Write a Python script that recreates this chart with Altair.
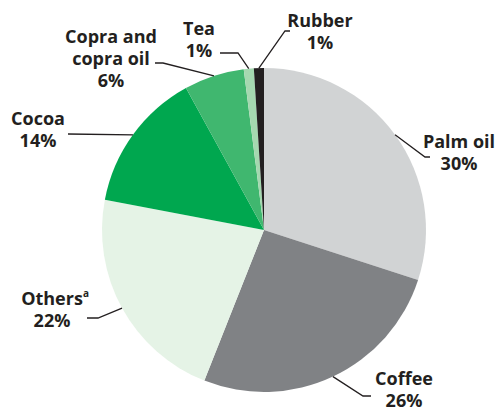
import math
import altair as alt
import pandas as pd

# ---- data ----
names = ["Palm oil", "Coffee", "Others", "Cocoa", "Copra and copra oil", "Tea", "Rubber"]
values = [30, 26, 22, 14, 6, 1, 1]
colors = ["#d1d3d4", "#808285", "#e5f3e6", "#00a74f", "#40b76f", "#a5d8b0", "#231f20"]

# label text lines per slice
label_lines = {
    "Palm oil": ["Palm oil", "30%"],
    "Coffee": ["Coffee", "26%"],
    "Others": ["Others", "22%"],
    "Cocoa": ["Cocoa", "14%"],
    "Copra and copra oil": ["Copra and", "copra oil", "6%"],
    "Tea": ["Tea", "1%"],
    "Rubber": ["Rubber", "1%"],
}

# ---- layout (page pixel coordinates) ----
CX, CY, R = 264, 230, 162
label_pos = {  # (center x, first baseline y)
    "Palm oil": (459, 148),
    "Coffee": (404, 385),
    "Others": (52, 305),
    "Cocoa": (38, 125),
    "Copra and copra oil": (111, 43),
    "Tea": (199, 35),
    "Rubber": (320, 27),
}
leader_pts = {  # elbow, end
    "Palm oil": [(425, 157), (430, 157)],
    "Coffee": [(363, 396), (371, 396)],
    "Others": [(98, 318), (87, 318)],
    "Cocoa": [(68, 134), (68, 134)],
    "Copra and copra oil": [(163, 63), (155, 63)],
    "Tea": [(238, 53), (220, 53)],
    "Rubber": [(285, 31), (290, 31)],
}
LINE_H = 22
W, H = 487, 401

pie_df = pd.DataFrame({"name": names, "value": values, "k": list(range(len(names)))})

# leader lines: start at slice mid-angle on the rim
total = sum(values)
rows = []
cum = 0
for n, v in zip(names, values):
    mid = (cum + v / 2) / total * 2 * math.pi
    cum += v
    sx = CX + R * math.sin(mid)
    sy = CY - R * math.cos(mid)
    pts = [(sx, sy)] + leader_pts[n]
    for i, (px, py) in enumerate(pts):
        rows.append({"name": n, "i": i, "x": px, "y": py})
line_df = pd.DataFrame(rows)

trows = []
for n in names:
    x0, y0 = label_pos[n]
    for j, t in enumerate(label_lines[n]):
        trows.append({"name": n, "text": t, "x": x0, "y": y0 + j * LINE_H})
text_df = pd.DataFrame(trows)
sup_df = pd.DataFrame({"text": ["a"], "x": [86], "y": [297]})

xs = alt.Scale(domain=[8, 8 + W], range=[0, W])
ys = alt.Scale(domain=[8 + H, 8], range=[H, 0])

pie = alt.Chart(pie_df).mark_arc(outerRadius=R).encode(
    theta=alt.Theta("value:Q", stack=True),
    order=alt.Order("k:Q"),
    color=alt.Color("name:N", scale=alt.Scale(domain=names, range=colors), legend=None),
    x=alt.value(CX - 8),
    y=alt.value(CY - 8),
)

lines = alt.Chart(line_df).mark_line(color="#231f20", strokeWidth=1.3).encode(
    x=alt.X("x:Q", scale=xs, axis=None),
    y=alt.Y("y:Q", scale=ys, axis=None),
    detail="name:N",
    order="i:Q",
)

texts = alt.Chart(text_df).mark_text(
    font="Open Sans", fontWeight="bold", fontSize=18, color="#231f20",
    align="center", baseline="alphabetic",
).encode(
    x=alt.X("x:Q", scale=xs, axis=None),
    y=alt.Y("y:Q", scale=ys, axis=None),
    text="text:N",
)

sup = alt.Chart(sup_df).mark_text(
    font="Open Sans", fontWeight="bold", fontSize=10, color="#231f20",
    align="center", baseline="alphabetic",
).encode(
    x=alt.X("x:Q", scale=xs, axis=None),
    y=alt.Y("y:Q", scale=ys, axis=None),
    text="text:N",
)

chart = alt.layer(pie, lines, texts, sup).properties(
    width=W, height=H, padding=0, autosize=alt.AutoSizeParams(type="none")
).configure_view(stroke=None)

chart.save("out.html", embed_options={"renderer": "svg", "actions": False})
